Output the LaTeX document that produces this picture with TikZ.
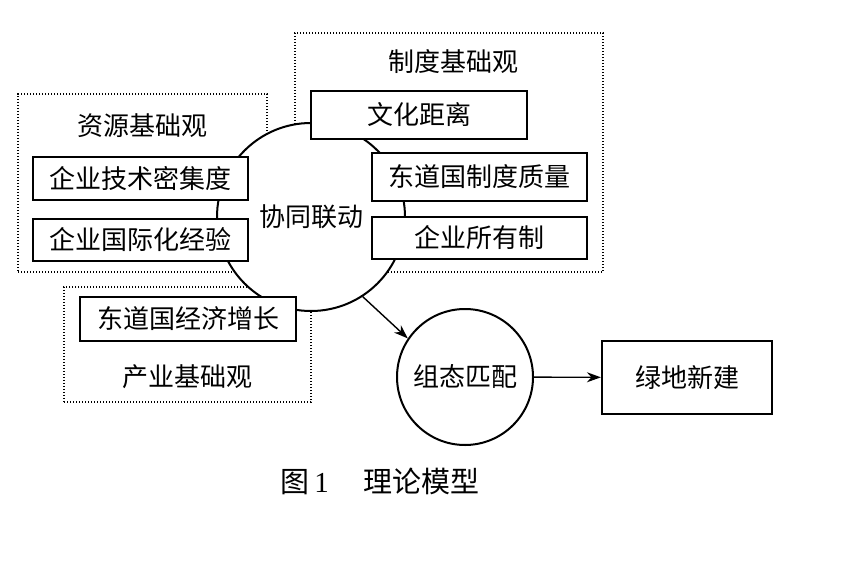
\documentclass[tikz,border=0pt]{standalone}
\usepackage{fontspec}
\setmainfont{Liberation Serif}
\newfontfamily\cjk{Noto Sans CJK SC}
\usetikzlibrary{fit,positioning,arrows.meta}

\tikzset{
  viewbox/.style={draw, dash pattern=on 0.6pt off 0.9pt, line width=0.6pt, inner sep=0pt},
  varbox/.style={draw, fill=white, line width=1.1pt, shape=rectangle, minimum width=107.5pt, font=\cjk\fontsize{13pt}{15pt}\selectfont},
  hub/.style={draw, fill=white, circle, line width=1pt, font=\cjk\fontsize{13pt}{15pt}\selectfont},
  viewlabel/.style={draw=none, font=\cjk\fontsize{13pt}{15pt}\selectfont},
  link/.style={-{Stealth[length=7pt,width=5pt]}, line width=0.7pt}
}

\begin{document}
\begin{tikzpicture}[x=0.5pt, y=-0.5pt]
  \useasboundingbox (0,0) rectangle (849,561);
  % three perspectives
  \node (resbox) [viewbox, fit={(18,94) (267,272)}] {};
  \node (insbox) [viewbox, fit={(295,33) (603,272)}] {};
  \node (indbox) [viewbox, fit={(64,287) (311,402)}] {};
  \node (syn) [hub, minimum size=94pt] at (311,217) {协同联动};
  % conditions
  \node (culture) [varbox, minimum height=24pt, minimum width=108pt] at (419,115) {文化距离};
  \node (quality) [varbox, minimum height=24pt] at (479.5,177) {东道国制度质量};
  \node (owner) [varbox, minimum height=21pt] at (479.5,238) {企业所有制};
  \node (tech) [varbox, minimum height=21.5pt] at (140.5,178.5) {企业技术密集度};
  \node (intl) [varbox, minimum height=21pt] at (140.5,240) {企业国际化经验};
  \node (growth) [varbox, minimum height=22pt, minimum width=108pt] at (188,319) {东道国经济增长};
  \node (reslabel) [viewlabel] at (142,126) {资源基础观};
  \node (inslabel) [viewlabel] at (453,62) {制度基础观};
  \node (indlabel) [viewlabel] at (187,377) {产业基础观};
  % outcome
  \node (cfg) [hub, minimum size=68pt] at (465,377) {组态匹配};
  \node (green) [varbox, minimum width=85pt, minimum height=36.5pt] at (687,377.5) {绿地新建};
  \draw[link] (syn.-57) -- (cfg.146);
  \draw[link] (cfg) -- (green);
  \node (caption) [draw=none, font=\fontsize{14.5pt}{16pt}\selectfont] at (380,481) {{\cjk 图}\,1\hspace{1.2em}{\cjk 理论模型}};
\end{tikzpicture}
\end{document}
